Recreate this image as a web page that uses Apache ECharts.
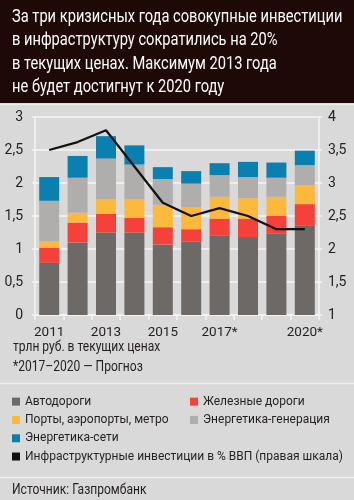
<!DOCTYPE html>
<html>
<head>
<meta charset="utf-8">
<script src="https://cdn.jsdelivr.net/npm/echarts@6/dist/echarts.min.js"></script>
<style>
  html, body { margin: 0; padding: 0; background: #d9d9d9; }
  #chart { width: 354px; height: 500px; }
</style>
</head>
<body>
<div id="chart"></div>
<script>
// Years and tick labels
const years = ['2011', '2012', '2013', '2014', '2015', '2016', '2017', '2018', '2019', '2020'];
const yearLabels = ['2011', '', '2013', '', '2015', '', '2017*', '', '', '2020*'];

// Investment by sector, trn rub (stacked segments)
const roads = [0.79, 1.10, 1.25, 1.25, 1.07, 1.11, 1.20, 1.18, 1.24, 1.35];
const rail = [0.23, 0.30, 0.28, 0.22, 0.26, 0.19, 0.26, 0.28, 0.26, 0.33];
const ports = [0.10, 0.15, 0.22, 0.28, 0.34, 0.33, 0.33, 0.31, 0.29, 0.29];
const powerGen = [0.61, 0.53, 0.62, 0.53, 0.39, 0.36, 0.33, 0.32, 0.29, 0.30];
const powerGrid = [0.36, 0.33, 0.34, 0.29, 0.18, 0.19, 0.18, 0.23, 0.23, 0.22];

// Infrastructure investment, % of GDP (right axis)
const gdpShare = [3.5, 3.62, 3.8, 3.25, 2.7, 2.5, 2.62, 2.5, 2.3, 2.3];

const FONT = "Roboto, 'Liberation Sans', sans-serif";
const TEXT = '#231f1e';
const WHITE = '#f4f4f4';

const NAMES = {
  roads: 'Автодороги',
  rail: 'Железные дороги',
  ports: 'Порты, аэропорты, метро',
  gen: 'Энергетика-генерация',
  grid: 'Энергетика-сети',
  gdp: 'Инфраструктурные инвестиции в % ВВП (правая шкала)',
};

const COLORS = {
  roads: '#6d6967',
  rail: '#f5413a',
  ports: '#fdb93c',
  gen: '#b0aeac',
  grid: '#0a80b0',
  gdp: '#111111',
};

const comma = (v) => String(v).replace('.', ',');

function barSeries(key, data) {
  return {
    name: NAMES[key],
    type: 'bar',
    stack: 'total',
    data: data,
    barWidth: 20,
    itemStyle: { color: COLORS[key] },
    emphasis: { disabled: true },
  };
}

// the original uses a condensed face, so squeeze these texts horizontally
function squeezedText(text, x, y, size, lineHeight, color, squeeze) {
  return {
    type: 'text',
    x: x,
    y: y,
    scaleX: squeeze,
    style: {
      text: text,
      fill: color,
      font: `${size}px ${FONT}`,
      lineHeight: lineHeight,
      verticalAlign: 'top',
    },
    z: 10,
  };
}

const chart = echarts.init(document.getElementById('chart'));

const option = {
  backgroundColor: '#d9d9d9',
  animation: false,
  textStyle: { fontFamily: FONT },

  graphic: [
    {
      type: 'rect',
      shape: { x: 0, y: 0, width: 354, height: 103 },
      style: { fill: '#1e0906' },
      z: -10,
    },
    {
      type: 'line',
      shape: { x1: 0, y1: 104.5, x2: 354, y2: 104.5 },
      style: { stroke: '#ececec', lineWidth: 1.5 },
    },
    {
      type: 'line',
      shape: { x1: 0, y1: 383.5, x2: 354, y2: 383.5 },
      style: { stroke: '#f0f0f0', lineWidth: 1.5 },
    },
    {
      type: 'line',
      shape: { x1: 0, y1: 477.5, x2: 354, y2: 477.5 },
      style: { stroke: '#f0f0f0', lineWidth: 1.5 },
    },
    squeezedText(
      'За три кризисных года совокупные инвестиции\nв инфраструктуру сократились на 20%\nв текущих ценах. Максимум 2013 года\nне будет достигнут к 2020 году',
      12, 5.5, 18, 23.4, '#ffffff', 0.815
    ),
    squeezedText('трлн руб. в текущих ценах\n*2017–2020 — Прогноз', 13, 337, 14, 20, TEXT, 0.86),
    squeezedText('Источник: Газпромбанк', 12, 481, 14, 18, TEXT, 0.86),
  ],

  legend: [
    {
      orient: 'vertical',
      left: 12,
      top: 392.5,
      padding: 0,
      itemWidth: 8,
      itemHeight: 8,
      itemGap: 0,
      icon: 'rect',
      selectedMode: false,
      textStyle: { color: TEXT, fontFamily: FONT, fontSize: 12, lineHeight: 18.3 },
      data: [NAMES.roads, NAMES.ports, NAMES.grid, NAMES.gdp],
    },
    {
      orient: 'vertical',
      left: 190,
      top: 392.5,
      padding: 0,
      itemWidth: 8,
      itemHeight: 8,
      itemGap: 0,
      icon: 'rect',
      selectedMode: false,
      textStyle: { color: TEXT, fontFamily: FONT, fontSize: 12, lineHeight: 18.3 },
      data: [NAMES.rail, NAMES.gen],
    },
  ],

  grid: { left: 35, right: 35, top: 117, bottom: 185 },

  xAxis: {
    type: 'category',
    data: years,
    axisLine: { lineStyle: { color: WHITE, width: 1.5 } },
    axisTick: { show: true, interval: 0, length: 5, lineStyle: { color: WHITE, width: 1.5 } },
    axisLabel: {
      interval: 0,
      color: TEXT,
      fontFamily: FONT,
      fontSize: 13.5,
      margin: 11,
      formatter: (v, i) => yearLabels[i],
    },
    splitLine: { show: false },
  },

  yAxis: [
    {
      type: 'value',
      min: 0,
      max: 3,
      interval: 0.5,
      axisLine: { show: true, lineStyle: { color: WHITE, width: 1.5 } },
      axisTick: { show: true, length: 3, lineStyle: { color: WHITE, width: 1.5 } },
      axisLabel: { color: TEXT, fontFamily: FONT, fontSize: 14, margin: 12, formatter: comma },
      splitLine: { lineStyle: { color: WHITE, width: 1.5 } },
    },
    {
      type: 'value',
      min: 1,
      max: 4,
      interval: 0.5,
      axisLine: { show: true, lineStyle: { color: WHITE, width: 1.5 } },
      axisTick: { show: true, length: 3, lineStyle: { color: WHITE, width: 1.5 } },
      axisLabel: { color: TEXT, fontFamily: FONT, fontSize: 14, margin: 9, formatter: comma },
      splitLine: { show: false },
    },
  ],

  series: [
    barSeries('roads', roads),
    barSeries('rail', rail),
    barSeries('ports', ports),
    barSeries('gen', powerGen),
    barSeries('grid', powerGrid),
    {
      name: NAMES.gdp,
      type: 'line',
      yAxisIndex: 1,
      data: gdpShare,
      symbol: 'none',
      itemStyle: { color: COLORS.gdp },
      lineStyle: { color: COLORS.gdp, width: 2.2 },
      z: 5,
      emphasis: { disabled: true },
    },
  ],
};

chart.setOption(option);
</script>
</body>
</html>
